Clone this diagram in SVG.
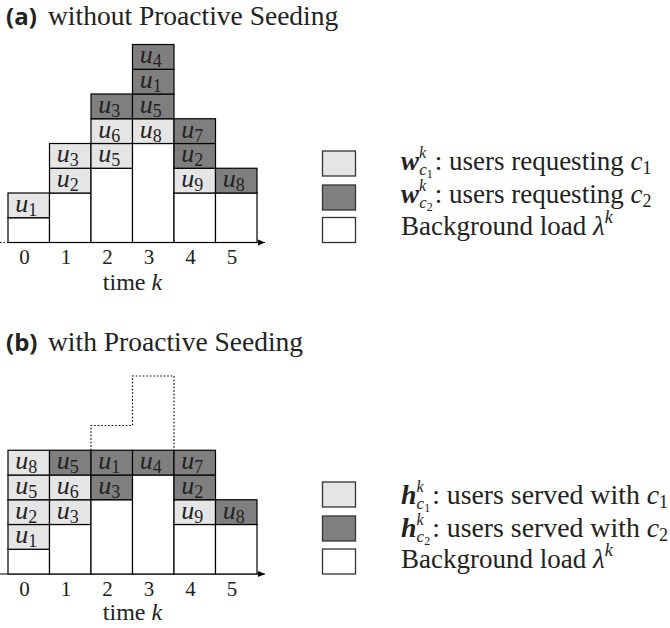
<svg xmlns="http://www.w3.org/2000/svg" width="670" height="628" viewBox="0 0 670 628">
<style>
.l{fill:#e5e5e5;stroke:#000;stroke-width:1.2}
.d{fill:#7f7f7f;stroke:#000;stroke-width:1.2}
.w{fill:#fff;stroke:#000;stroke-width:1.2}
.lb{stroke:#333;stroke-width:1.3}
.u{font-family:"Liberation Serif",serif;font-style:italic;font-size:26px;text-anchor:middle;fill:#222}
.s{font-size:18px;font-style:normal}
.tk{font-family:"Liberation Serif",serif;font-size:21px;text-anchor:middle;fill:#222}
.tm{font-family:"Liberation Serif",serif;font-size:24px;text-anchor:middle;fill:#222}
.ti{font-family:"Liberation Serif",serif;font-size:27.5px;fill:#222}
.tb{font-family:"Open Sans","DejaVu Sans",sans-serif;font-weight:bold;font-size:24px;fill:#222}
.lg{font-family:"Liberation Serif",serif;font-size:27px;fill:#222}
.lg2{font-family:"Liberation Serif",serif;font-size:27.8px;fill:#222}
.i{font-style:italic}
.bi{font-style:italic;font-weight:bold}
.ax{stroke:#000;stroke-width:1;fill:none}
.dt{stroke:#000;stroke-width:1.2;stroke-dasharray:1.5 2;fill:none}
</style>
<defs>
<marker id="arr" markerWidth="8" markerHeight="8" refX="7" refY="4" orient="auto" markerUnits="userSpaceOnUse">
<path d="M0,1 L7,4 L0,7 Z" fill="#000"/>
</marker>
</defs>

<g id="title-a"><text class="tb" x="6" y="25">(a)</text><text class="ti" x="48" y="25">without Proactive Seeding</text></g>
<g id="title-b"><text class="tb" x="6" y="351">(b)</text><text class="ti" x="48" y="351">with Proactive Seeding</text></g>

<g id="connectors">
<line class="dt" x1="0" y1="242.5" x2="8" y2="242.5"/>
<line class="ax" x1="8" y1="242.5" x2="265" y2="242.5" marker-end="url(#arr)"/>
<line class="ax" x1="0" y1="574" x2="265" y2="574" marker-end="url(#arr)"/>
<path class="dt" d="M91,450.25 V425.5 H132.5 V376 H174 V450.25"/>
</g>

<!-- chart a -->
<g id="a-col0">
<rect class="w" x="8" y="217.75" width="41.5" height="24.75"/>
<g id="a-u1"><rect class="l" x="8" y="193" width="41.5" height="24.75"/><text class="u" x="26.25" y="211.75">u<tspan class="s" dy="4">1</tspan></text></g>
</g>
<g id="a-col1">
<rect class="w" x="49.5" y="193" width="41.5" height="49.5"/>
<g id="a-u2"><rect class="l" x="49.5" y="168.25" width="41.5" height="24.75"/><text class="u" x="67.75" y="187">u<tspan class="s" dy="4">2</tspan></text></g>
<g id="a-u3"><rect class="l" x="49.5" y="143.5" width="41.5" height="24.75"/><text class="u" x="67.75" y="162.25">u<tspan class="s" dy="4">3</tspan></text></g>
</g>
<g id="a-col2">
<rect class="w" x="91" y="168.25" width="41.5" height="74.25"/>
<g id="a-u5"><rect class="l" x="91" y="143.5" width="41.5" height="24.75"/><text class="u" x="109.25" y="162.25">u<tspan class="s" dy="4">5</tspan></text></g>
<g id="a-u6"><rect class="l" x="91" y="118.75" width="41.5" height="24.75"/><text class="u" x="109.25" y="137.5">u<tspan class="s" dy="4">6</tspan></text></g>
<g id="a-u3b"><rect class="d" x="91" y="94" width="41.5" height="24.75"/><text class="u" x="109.25" y="112.75">u<tspan class="s" dy="4">3</tspan></text></g>
</g>
<g id="a-col3">
<rect class="w" x="132.5" y="143.5" width="41.5" height="99"/>
<g id="a-u8"><rect class="l" x="132.5" y="118.75" width="41.5" height="24.75"/><text class="u" x="150.75" y="137.5">u<tspan class="s" dy="4">8</tspan></text></g>
<g id="a-u5b"><rect class="d" x="132.5" y="94" width="41.5" height="24.75"/><text class="u" x="150.75" y="112.75">u<tspan class="s" dy="4">5</tspan></text></g>
<g id="a-u1b"><rect class="d" x="132.5" y="69.25" width="41.5" height="24.75"/><text class="u" x="150.75" y="88">u<tspan class="s" dy="4">1</tspan></text></g>
<g id="a-u4"><rect class="d" x="132.5" y="44.5" width="41.5" height="24.75"/><text class="u" x="150.75" y="63.25">u<tspan class="s" dy="4">4</tspan></text></g>
</g>
<g id="a-col4">
<rect class="w" x="174" y="193" width="41.5" height="49.5"/>
<g id="a-u9"><rect class="l" x="174" y="168.25" width="41.5" height="24.75"/><text class="u" x="192.25" y="187">u<tspan class="s" dy="4">9</tspan></text></g>
<g id="a-u2b"><rect class="d" x="174" y="143.5" width="41.5" height="24.75"/><text class="u" x="192.25" y="162.25">u<tspan class="s" dy="4">2</tspan></text></g>
<g id="a-u7"><rect class="d" x="174" y="118.75" width="41.5" height="24.75"/><text class="u" x="192.25" y="137.5">u<tspan class="s" dy="4">7</tspan></text></g>
</g>
<g id="a-col5">
<rect class="w" x="215.5" y="193" width="41.5" height="49.5"/>
<g id="a-u8b"><rect class="d" x="215.5" y="168.25" width="41.5" height="24.75"/><text class="u" x="233.75" y="187">u<tspan class="s" dy="4">8</tspan></text></g>
</g>
<g id="a-axis-labels">
<text class="tk" x="24.5" y="264">0</text><text class="tk" x="66" y="264">1</text><text class="tk" x="107.5" y="264">2</text><text class="tk" x="149" y="264">3</text><text class="tk" x="190.5" y="264">4</text><text class="tk" x="232" y="264">5</text>
<text class="tm" x="132.5" y="290">time <tspan class="i">k</tspan></text>
</g>

<!-- legend a -->
<g id="leg-a-c1"><rect class="l lb" x="322.5" y="151" width="33" height="25"/>
<text class="lg" x="401" y="170"><tspan class="bi">w</tspan><tspan class="i" font-size="16" dy="-12">k</tspan><tspan class="i" font-size="17" dx="-7" dy="17">c</tspan><tspan font-size="12" dy="3">1</tspan><tspan dx="2" dy="-8">: users requesting </tspan><tspan class="i">c</tspan><tspan font-size="18" dy="4">1</tspan></text></g>
<g id="leg-a-c2"><rect class="d lb" x="322.5" y="185" width="33" height="25"/>
<text class="lg" x="401" y="203"><tspan class="bi">w</tspan><tspan class="i" font-size="16" dy="-12">k</tspan><tspan class="i" font-size="17" dx="-7" dy="17">c</tspan><tspan font-size="12" dy="3">2</tspan><tspan dx="2" dy="-8">: users requesting </tspan><tspan class="i">c</tspan><tspan font-size="18" dy="4">2</tspan></text></g>
<g id="leg-a-bg"><rect class="w lb" x="322.5" y="217.5" width="33" height="25"/>
<text class="lg" x="401" y="235">Background load <tspan class="i">λ</tspan><tspan class="i" font-size="18" dy="-12">k</tspan></text></g>

<!-- chart b -->
<g id="b-col0">
<rect class="w" x="8" y="549.25" width="41.5" height="24.75"/>
<g id="b-u1"><rect class="l" x="8" y="524.5" width="41.5" height="24.75"/><text class="u" x="26.25" y="543.25">u<tspan class="s" dy="4">1</tspan></text></g>
<g id="b-u2"><rect class="l" x="8" y="499.75" width="41.5" height="24.75"/><text class="u" x="26.25" y="518.5">u<tspan class="s" dy="4">2</tspan></text></g>
<g id="b-u5"><rect class="l" x="8" y="475" width="41.5" height="24.75"/><text class="u" x="26.25" y="493.75">u<tspan class="s" dy="4">5</tspan></text></g>
<g id="b-u8"><rect class="l" x="8" y="450.25" width="41.5" height="24.75"/><text class="u" x="26.25" y="469">u<tspan class="s" dy="4">8</tspan></text></g>
</g>
<g id="b-col1">
<rect class="w" x="49.5" y="524.5" width="41.5" height="49.5"/>
<g id="b-u3"><rect class="l" x="49.5" y="499.75" width="41.5" height="24.75"/><text class="u" x="67.75" y="518.5">u<tspan class="s" dy="4">3</tspan></text></g>
<g id="b-u6"><rect class="l" x="49.5" y="475" width="41.5" height="24.75"/><text class="u" x="67.75" y="493.75">u<tspan class="s" dy="4">6</tspan></text></g>
<g id="b-u5b"><rect class="d" x="49.5" y="450.25" width="41.5" height="24.75"/><text class="u" x="67.75" y="469">u<tspan class="s" dy="4">5</tspan></text></g>
</g>
<g id="b-col2">
<rect class="w" x="91" y="499.75" width="41.5" height="74.25"/>
<g id="b-u3b"><rect class="d" x="91" y="475" width="41.5" height="24.75"/><text class="u" x="109.25" y="493.75">u<tspan class="s" dy="4">3</tspan></text></g>
<g id="b-u1b"><rect class="d" x="91" y="450.25" width="41.5" height="24.75"/><text class="u" x="109.25" y="469">u<tspan class="s" dy="4">1</tspan></text></g>
</g>
<g id="b-col3">
<rect class="w" x="132.5" y="475" width="41.5" height="99"/>
<g id="b-u4"><rect class="d" x="132.5" y="450.25" width="41.5" height="24.75"/><text class="u" x="150.75" y="469">u<tspan class="s" dy="4">4</tspan></text></g>
</g>
<g id="b-col4">
<rect class="w" x="174" y="524.5" width="41.5" height="49.5"/>
<g id="b-u9"><rect class="l" x="174" y="499.75" width="41.5" height="24.75"/><text class="u" x="192.25" y="518.5">u<tspan class="s" dy="4">9</tspan></text></g>
<g id="b-u2b"><rect class="d" x="174" y="475" width="41.5" height="24.75"/><text class="u" x="192.25" y="493.75">u<tspan class="s" dy="4">2</tspan></text></g>
<g id="b-u7"><rect class="d" x="174" y="450.25" width="41.5" height="24.75"/><text class="u" x="192.25" y="469">u<tspan class="s" dy="4">7</tspan></text></g>
</g>
<g id="b-col5">
<rect class="w" x="215.5" y="524.5" width="41.5" height="49.5"/>
<g id="b-u8b"><rect class="d" x="215.5" y="499.75" width="41.5" height="24.75"/><text class="u" x="233.75" y="518.5">u<tspan class="s" dy="4">8</tspan></text></g>
</g>
<g id="b-axis-labels">
<text class="tk" x="24.5" y="596">0</text><text class="tk" x="66" y="596">1</text><text class="tk" x="107.5" y="596">2</text><text class="tk" x="149" y="596">3</text><text class="tk" x="190.5" y="596">4</text><text class="tk" x="232" y="596">5</text>
<text class="tm" x="132.5" y="620">time <tspan class="i">k</tspan></text>
</g>

<!-- legend b -->
<g id="leg-b-c1"><rect class="l lb" x="322.5" y="482" width="33" height="25"/>
<text class="lg2" x="401" y="504"><tspan class="bi">h</tspan><tspan class="i" font-size="16" dy="-12">k</tspan><tspan class="i" font-size="17" dx="-7" dy="17">c</tspan><tspan font-size="12" dy="3">1</tspan><tspan dx="2" dy="-8">: users served with </tspan><tspan class="i">c</tspan><tspan font-size="18" dy="4">1</tspan></text></g>
<g id="leg-b-c2"><rect class="d lb" x="322.5" y="516" width="33" height="25"/>
<text class="lg2" x="401" y="537"><tspan class="bi">h</tspan><tspan class="i" font-size="16" dy="-12">k</tspan><tspan class="i" font-size="17" dx="-7" dy="17">c</tspan><tspan font-size="12" dy="3">2</tspan><tspan dx="2" dy="-8">: users served with </tspan><tspan class="i">c</tspan><tspan font-size="18" dy="4">2</tspan></text></g>
<g id="leg-b-bg"><rect class="w lb" x="322.5" y="549" width="33" height="25"/>
<text class="lg" x="401" y="568">Background load <tspan class="i">λ</tspan><tspan class="i" font-size="18" dy="-12">k</tspan></text></g>
</svg>
